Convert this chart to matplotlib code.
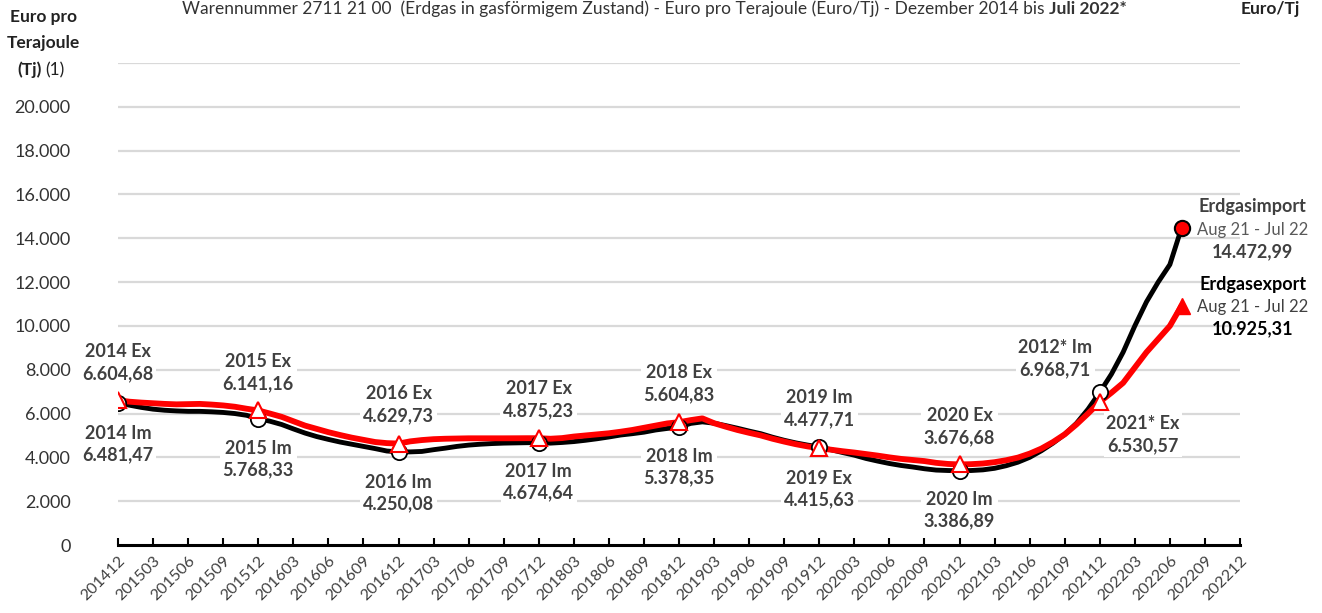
import numpy as np
import matplotlib
matplotlib.use("Agg")
import matplotlib.pyplot as plt

plt.rcParams['font.family'] = ['Lato', 'DejaVu Sans']

# Monatswerte Dezember 2014 bis Juli 2022 (gleitende 12-Monats-Werte, Euro/Tj)
start_year, start_month = 2014, 12
import_vals = [
    6481.47,
    6380, 6280, 6200, 6150, 6120, 6100, 6100, 6080, 6050, 6000, 5920, 5768.33,
    5650, 5500, 5300, 5110, 4950, 4820, 4700, 4600, 4500, 4400, 4290, 4250.08,
    4250, 4270, 4350, 4420, 4500, 4560, 4600, 4630, 4650, 4660, 4670, 4674.64,
    4650, 4680, 4720, 4780, 4850, 4930, 5020, 5080, 5150, 5250, 5320, 5378.35,
    5550, 5620, 5560, 5450, 5330, 5200, 5080, 4920, 4780, 4660, 4560, 4477.71,
    4350, 4220, 4100, 3950, 3830, 3720, 3630, 3560, 3480, 3420, 3400, 3386.89,
    3400, 3430, 3500, 3620, 3780, 4000, 4300, 4650, 5050, 5550, 6200, 6968.71,
    7800, 8800, 10000, 11100, 12000, 12800, 14472.99,
]
export_vals = [
    6604.68,
    6540, 6500, 6470, 6440, 6420, 6430, 6440, 6410, 6370, 6310, 6220, 6141.16,
    6000, 5850, 5650, 5450, 5300, 5150, 5020, 4900, 4800, 4700, 4650, 4629.73,
    4730, 4790, 4830, 4850, 4860, 4870, 4870, 4870, 4870, 4872, 4875, 4875.23,
    4850, 4880, 4950, 5000, 5050, 5100, 5170, 5250, 5350, 5450, 5550, 5604.83,
    5700, 5780, 5560, 5400, 5250, 5120, 5000, 4850, 4720, 4600, 4500, 4415.63,
    4350, 4280, 4220, 4150, 4080, 4000, 3930, 3880, 3830, 3750, 3700, 3676.68,
    3690, 3720, 3780, 3870, 3990, 4170, 4400, 4700, 5050, 5500, 6000, 6530.57,
    6950, 7400, 8100, 8800, 9400, 10000, 10925.31,
]

# Jahreswerte (Dezember) mit Beschriftung
year_idx = [0, 12, 24, 36, 48, 60, 72, 84]
im_labels = ["2014 Im", "2015 Im", "2016 Im", "2017 Im", "2018 Im", "2019 Im", "2020 Im", "2012* Im"]
ex_labels = ["2014 Ex", "2015 Ex", "2016 Ex", "2017 Ex", "2018 Ex", "2019 Ex", "2020 Ex", "2021* Ex"]
# Lage der Beschriftungen (x in Monaten, y in Euro/Tj)
im_label_pos = [(0, 4612), (12, 3927), (24, 2374), (36, 2877), (48, 3562), (60, 6233), (72, 1598), (80.2, 8516)]
ex_label_pos = [(0, 8333), (12, 7877), (24, 6393), (36, 6644), (48, 7374), (60, 2557), (72, 5411), (87.7, 5046)]

tick_step = 3
n_ticks = 33  # 201412 ... 202212


def fmt_de(v):
    s = f"{v:,.2f}"
    return s.replace(",", "X").replace(".", ",").replace("X", ".")


def fmt_int(v):
    return f"{int(v):,}".replace(",", ".")


x = np.arange(len(import_vals))
tick_pos = np.arange(n_ticks) * tick_step
tick_labels = []
for p in tick_pos:
    m = start_month - 1 + p
    tick_labels.append(f"{start_year + m // 12}{m % 12 + 1:02d}")

fig = plt.figure(figsize=(13.22, 6.13), dpi=100)
ax = fig.add_axes([118 / 1322, 68 / 613, 1122 / 1322, 482 / 613])

grey = "#404040"

ax.set_xlim(0, 96)
ax.set_ylim(0, 22000)
yt = np.arange(2000, 22001, 2000)
for v in yt:
    ax.axhline(v, color="#d9d9d9", lw=1.6, zorder=0)
ax.set_yticks(np.arange(0, 20001, 2000))
ax.set_yticklabels([fmt_int(v) for v in np.arange(0, 20001, 2000)], fontsize=13, color="#333333")
ax.tick_params(axis="y", length=0, pad=34)

ax.set_xticks(tick_pos)
ax.set_xticklabels(tick_labels, rotation=45, ha="right", rotation_mode="anchor",
                   fontsize=11.5, color=grey)
ax.tick_params(axis="x", direction="in", length=5, width=1.5, color="black", pad=6)

for s in ["top", "right", "left"]:
    ax.spines[s].set_visible(False)
ax.spines["bottom"].set_linewidth(2.2)
ax.spines["bottom"].set_zorder(5)

# Linien
ax.plot(x, import_vals, color="black", lw=3.5, zorder=3, solid_capstyle="round")
ax.plot(x, export_vals, color="#ff0000", lw=4.2, zorder=4, solid_capstyle="round")

# Marker
imv = np.array(import_vals)
exv = np.array(export_vals)
ax.plot(year_idx, imv[year_idx], "o", ms=11, mfc="white", mec="black", mew=1.3, zorder=6, ls="none")
ax.plot(year_idx, exv[year_idx], "^", ms=11, mfc="white", mec="#ff0000", mew=1.5, zorder=7, ls="none")
ax.plot(x[-1], imv[-1], "o", ms=11, mfc="#ff0000", mec="black", mew=1.5, zorder=7)
ax.plot(x[-1], exv[-1], "^", ms=11, mfc="#ff0000", mec="#ff0000", zorder=7)

box = dict(facecolor="white", edgecolor="none", pad=2)
for i, lab, (lx, ly) in zip(year_idx, im_labels, im_label_pos):
    ax.text(lx, ly, f"{lab}\n{fmt_de(imv[i])}", ha="center", va="center", fontsize=13,
            fontweight="bold", color=grey, linespacing=1.35, bbox=box, zorder=2)
for i, lab, (lx, ly) in zip(year_idx, ex_labels, ex_label_pos):
    ax.text(lx, ly, f"{lab}\n{fmt_de(exv[i])}", ha="center", va="center", fontsize=13,
            fontweight="bold", color=grey, linespacing=1.35, bbox=box, zorder=2)

# Endwerte rechts
ex_x = 97.1
def yv(py):
    return (545 - py) / 0.0219

ax.text(ex_x, yv(207), "Erdgasimport", ha="center", va="center", fontsize=13, fontweight="bold", color=grey)
ax.text(ex_x, yv(230), "Aug 21 - Jul 22", ha="center", va="center", fontsize=12, color="#595959")
ax.text(ex_x, yv(252), fmt_de(imv[-1]), ha="center", va="center", fontsize=13, fontweight="bold", color=grey)
ax.text(ex_x, yv(285), "Erdgasexport", ha="center", va="center", fontsize=13, fontweight="bold", color="black")
ax.text(ex_x, yv(307), "Aug 21 - Jul 22", ha="center", va="center", fontsize=12, color=grey)
ax.text(ex_x, yv(329), fmt_de(exv[-1]), ha="center", va="center", fontsize=13, fontweight="bold", color="black")

# Titel und Achsentitel
fig.text(1045 / 1322, 1 - 9 / 613,
         "Warennummer 2711 21 00  (Erdgas in gasförmigem Zustand) - Euro pro Terajoule (Euro/Tj) - Dezember 2014 bis",
         ha="right", va="center", fontsize=12.5, color="#333333")
fig.text(1049 / 1322, 1 - 9 / 613, "Juli 2022*", ha="left", va="center", fontsize=12.5,
         fontweight="bold", color="#333333")
fig.text(1270 / 1322, 1 - 9 / 613, "Euro/Tj", ha="center", va="center", fontsize=12.5,
         fontweight="bold", color="#222222")

fig.text(43 / 1322, 1 - 17 / 613, "Euro pro", ha="center", va="center", fontsize=12.5, fontweight="bold", color="#222222")
fig.text(43 / 1322, 1 - 43 / 613, "Terajoule", ha="center", va="center", fontsize=12.5, fontweight="bold", color="#222222")
fig.text(42 / 1322, 1 - 70 / 613, "(Tj)", ha="right", va="center", fontsize=12.5, fontweight="bold", color="#222222")
fig.text(45 / 1322, 1 - 70 / 613, "(1)", ha="left", va="center", fontsize=12.5, color="#222222")

fig.savefig("out.png", dpi=100, facecolor="white")
